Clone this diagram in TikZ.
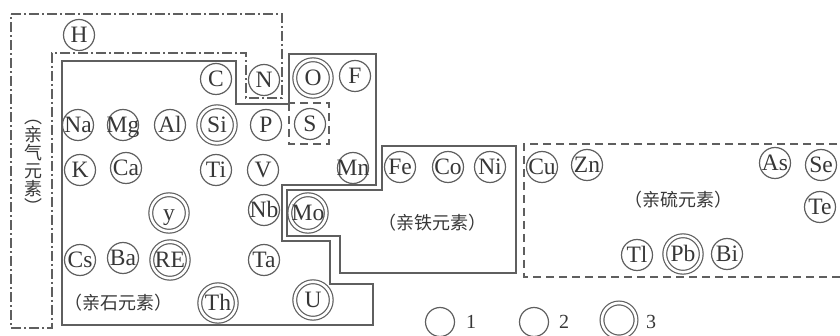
\documentclass[tikz,border=0pt]{standalone}
\usepackage{fontspec}
\setmainfont{Liberation Serif}
\newfontfamily\cjk{Noto Sans CJK SC}
\newcommand{\elm}[1]{\makebox[0pt]{#1}}
\definecolor{ln}{RGB}{95,95,95}
\definecolor{tx}{RGB}{55,55,55}
\begin{document}
\begin{tikzpicture}[x=1pt,y=-1pt,
  el/.style={circle,draw=ln,line width=1.2pt,minimum size=31pt,inner sep=0pt,
    text=tx,font=\fontsize{23.5}{25}\selectfont,text height=15.5pt,text depth=0pt},
  dbl/.style={el,double,double distance=2.6pt,minimum size=36.5pt},
  zone/.style={draw=ln,line width=1.2pt},
  atm/.style={zone,dash pattern=on 10pt off 3pt on 2pt off 3pt},
  dsh/.style={zone,dash pattern=on 8pt off 5pt},
  lab/.style={text=tx,font=\cjk\fontsize{18}{18}\selectfont,inner sep=0pt},
  num/.style={text=tx,font=\fontsize{20}{21}\selectfont,inner sep=0pt}]
\useasboundingbox (0,0) rectangle (840,336);
% zones
\draw[atm] (11,14) -- (282,14) -- (282,98) -- (246,98) -- (246,53) -- (52,53) -- (52,328) -- (11,328) -- cycle;
\draw[zone] (62,61) -- (236,61) -- (236,104) -- (289,104) -- (289,54) -- (376,54) -- (376,185) -- (282,185) -- (282,241) -- (330,241) -- (330,284) -- (373,284) -- (373,325) -- (62,325) -- cycle;
\draw[zone] (382,146) -- (516,146) -- (516,273) -- (340,273) -- (340,236) -- (287,236) -- (287,190) -- (382,190) -- cycle;
\draw[dsh] (289,103) rectangle (329,144);
\draw[dsh] (850,144) -- (524,144) -- (524,277) -- (850,277);
% elements
\node[el] (H) at (79,35) {\elm{H}};
\node[el] (C) at (216,79) {\elm{C}};
\node[el] (N) at (264,80) {\elm{N}};
\node[dbl] (O) at (313,78) {\elm{O}};
\node[el] (F) at (355,76) {\elm{F}};
\node[el] (Na) at (78,125) {\elm{Na}};
\node[el] (Mg) at (123,125) {\elm{Mg}};
\node[el] (Al) at (170,125) {\elm{Al}};
\node[dbl] (Si) at (217,125) {\elm{Si}};
\node[el] (P) at (266,125) {\elm{P}};
\node[el] (S) at (310,124) {\elm{S}};
\node[el] (K) at (80,170) {\elm{K}};
\node[el] (Ca) at (126,168) {\elm{Ca}};
\node[el] (Ti) at (216,170) {\elm{Ti}};
\node[el] (V) at (263,170) {\elm{V}};
\node[el] (Mn) at (353,168) {\elm{Mn}};
\node[el] (Fe) at (400,167) {\elm{Fe}};
\node[el] (Co) at (448,167) {\elm{Co}};
\node[el] (Ni) at (490,167) {\elm{Ni}};
\node[el] (Cu) at (542,167) {\elm{Cu}};
\node[el] (Zn) at (587,165) {\elm{Zn}};
\node[el] (As) at (775,163) {\elm{As}};
\node[el] (Se) at (821,165) {\elm{Se}};
\node[el] (Te) at (820,207) {\elm{Te}};
\node[dbl] (Y) at (169,213) {\elm{y}};
\node[el] (Nb) at (264,210) {\elm{Nb}};
\node[dbl] (Mo) at (308,213) {\elm{Mo}};
\node[el] (Cs) at (80,260) {\elm{Cs}};
\node[el] (Ba) at (123,258) {\elm{Ba}};
\node[dbl] (RE) at (170,260) {\elm{RE}};
\node[el] (Ta) at (264,260) {\elm{Ta}};
\node[dbl] (Th) at (218,303) {\elm{Th}};
\node[dbl] (U) at (313,300) {\elm{U}};
\node[el] (Tl) at (637,255) {\elm{Tl}};
\node[dbl] (Pb) at (683,254) {\elm{Pb}};
\node[el] (Bi) at (727,254) {\elm{Bi}};
% labels
\node[lab,align=center] (atmlab) at (33,167) {︵\\亲\\气\\元\\素\\︶};
\node[lab] (litlab) at (118,303) {（亲石元素）};
\node[lab] (sidlab) at (432,223) {（亲铁元素）};
\node[lab] (chalab) at (678,200) {（亲硫元素）};
% legend
\node[el,minimum size=29pt] (leg1) at (440,322) {};
\node[num] (n1) at (471,322) {1};
\node[el,minimum size=29pt] (leg2) at (534,322) {};
\node[num] (n2) at (564,322) {2};
\node[dbl,minimum size=34pt] (leg3) at (619,320) {};
\node[num] (n3) at (651,322) {3};
\end{tikzpicture}
\end{document}
